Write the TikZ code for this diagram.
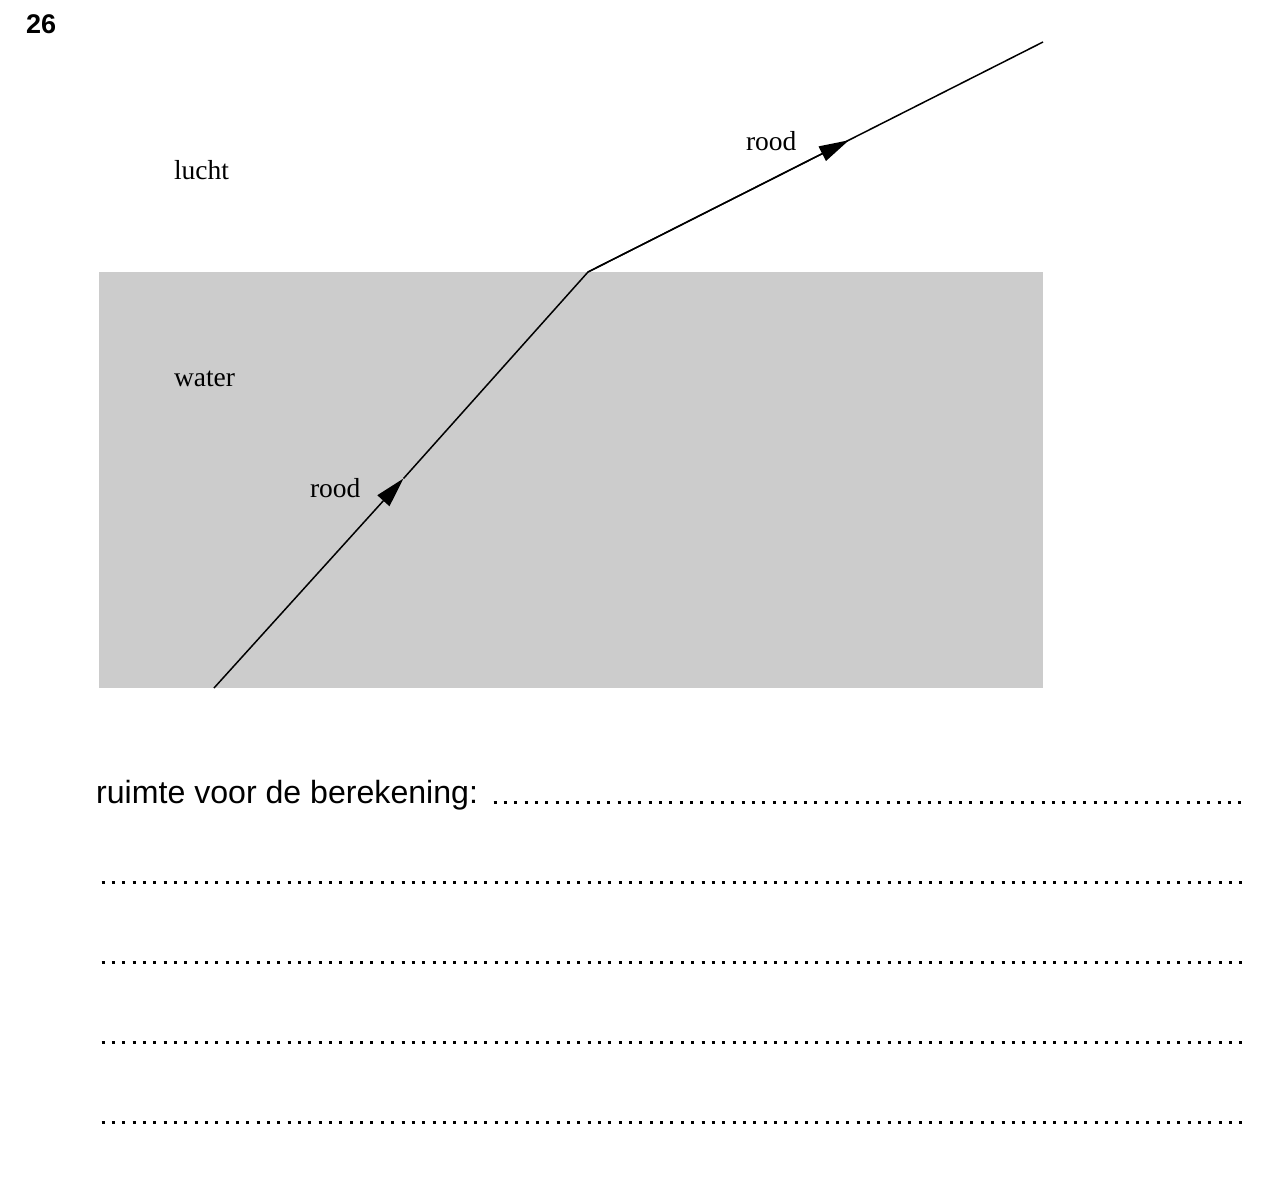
\documentclass[tikz,border=0pt]{standalone}
\usepackage{fontspec}
\setmainfont{Liberation Serif}
\newfontfamily\arialfont{Liberation Sans}
\usetikzlibrary{arrows.meta}
\definecolor{watergray}{HTML}{CCCCCC}
\tikzset{
  lbl/.style={anchor=base west, inner sep=0pt, outer sep=0pt, font=\fontsize{27.5}{30}\selectfont},
  ray/.style={line width=1.5pt, black},
  rayarrow/.style={ray, -{Triangle[length=30pt, width=16pt]}},
  answerdots/.style={line width=3pt, line cap=butt, dash pattern=on 3pt off 7.345pt},
}
\begin{document}
\begin{tikzpicture}[x=1pt, y=-1pt]
\useasboundingbox (0,0) rectangle (1272,1197);
% number
\node[anchor=base west, inner sep=0pt, font=\arialfont\bfseries\fontsize{27}{30}\selectfont] (num) at (26,33) {26};
% water
\fill[watergray] (99,272) rectangle (1043,688);
% labels
\node[lbl] (lucht) at (174,179.5) {lucht};
\node[lbl] (water) at (174,386) {water};
\node[lbl] (rood1) at (310,497.5) {rood};
\node[lbl] (rood2) at (746,150) {rood};
% ray
\coordinate (start) at (214,688);
\coordinate (arr1) at (403.5,478.5);
\coordinate (bend) at (588,272);
\coordinate (arr2) at (849,140.2);
\coordinate (stop) at (1043,42);
\draw[rayarrow] (start) -- (arr1);
\draw[ray, line join=miter] (arr1) -- (bend) -- (stop);
\draw[rayarrow] (bend) -- (arr2);
% answer lines
\node[anchor=base west, inner sep=0pt, font=\arialfont\fontsize{32.1}{36}\selectfont] (calc) at (96,803) {ruimte voor de berekening:};
\coordinate (d1a) at (493.5,802); \coordinate (d1b) at (1242,802);
\coordinate (d2a) at (101.5,882); \coordinate (d2b) at (1244,882);
\coordinate (d3a) at (101.5,962); \coordinate (d3b) at (1244,962);
\coordinate (d4a) at (101.5,1042); \coordinate (d4b) at (1244,1042);
\coordinate (d5a) at (101.5,1122); \coordinate (d5b) at (1244,1122);
\draw[answerdots] (d1a) -- (d1b);
\draw[answerdots] (d2a) -- (d2b);
\draw[answerdots] (d3a) -- (d3b);
\draw[answerdots] (d4a) -- (d4b);
\draw[answerdots] (d5a) -- (d5b);
\end{tikzpicture}
\end{document}
